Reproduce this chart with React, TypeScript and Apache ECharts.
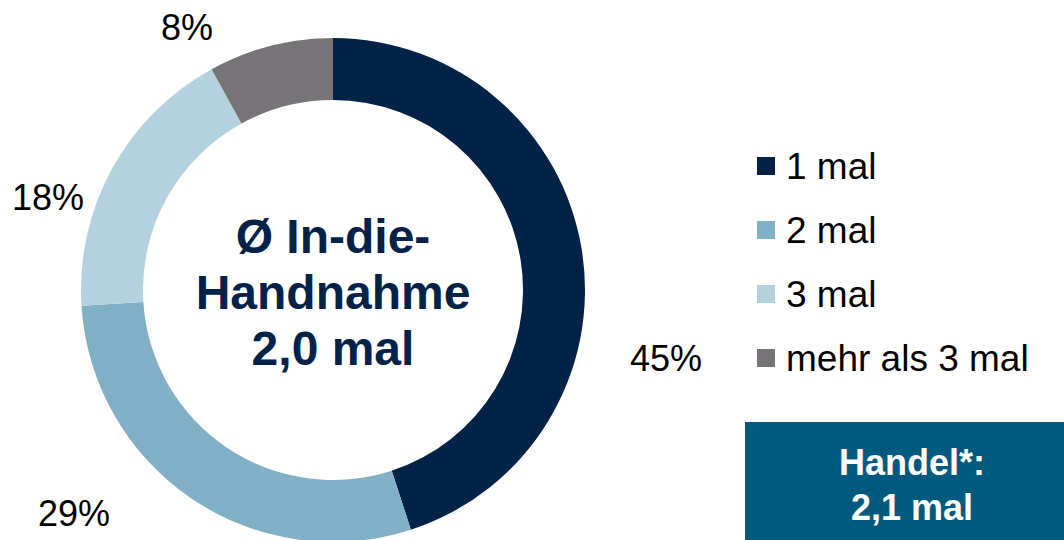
import React, { useEffect, useRef } from "react";
import * as echarts from "echarts";

const categories = ["1 mal", "2 mal", "3 mal", "mehr als 3 mal"];
const shares = [45, 29, 18, 8];
const sliceColors = ["#022247", "#80afc6", "#b3d1df", "#767477"];
const centerLines = ["Ø In-die-", "Handnahme", "2,0 mal"];
const boxLines = ["Handel*:", "2,1 mal"];

// label anchor points (layout only)
const labelAnchors: [number, number][] = [
  [666, 358],
  [74, 513],
  [48, 197],
  [187, 27],
];

const FONT = "'Liberation Sans', Arial, Helvetica, sans-serif";

export default function App() {
  const ref = useRef<HTMLDivElement>(null);
  useEffect(() => {
    if (!ref.current) return;
    const chart = echarts.init(ref.current, undefined, { renderer: "svg" });
    chart.setOption({
      animation: false,
      backgroundColor: "#ffffff",
      color: sliceColors,
      legend: {
        orient: "vertical",
        left: 757,
        top: 144,
        padding: 0,
        itemWidth: 18,
        itemHeight: 18,
        itemGap: 20,
        itemTextGap: 10,
        itemStyle: { borderWidth: 0 },
        icon: "rect",
        textStyle: {
          fontFamily: FONT,
          fontSize: 37,
          lineHeight: 36,
          color: "#000000",
          padding: [8, 0, 0, 6],
        },
        data: categories,
        selectedMode: false,
      },
      series: [
        {
          type: "pie",
          center: [333, 290],
          radius: [190, 252],
          startAngle: 90,
          clockwise: true,
          avoidLabelOverlap: false,
          itemStyle: { borderWidth: 0 },
          label: {
            show: true,
            position: "outside",
            formatter: "{c}%",
            fontFamily: FONT,
            fontSize: 36,
            color: "#000000",
          },
          labelLine: { show: false },
          labelLayout: (p: any) => {
            const a = labelAnchors[p.dataIndex];
            return { x: a[0], y: a[1], align: "center", verticalAlign: "middle" };
          },
          emphasis: { disabled: true },
          data: categories.map((name, i) => ({ name, value: shares[i] })),
        },
      ],
      graphic: [
        {
          type: "text",
          x: 333,
          y: 292,
          style: {
            text: centerLines.join("\n"),
            fontFamily: FONT,
            fontWeight: "bold",
            fontSize: 48,
            lineHeight: 56,
            fill: "#022247",
            align: "center",
            verticalAlign: "middle",
          },
        },
        {
          type: "rect",
          shape: { x: 745, y: 422, width: 340, height: 130 },
          style: { fill: "#005a80" },
        },
        {
          type: "text",
          x: 912,
          y: 485,
          style: {
            text: boxLines.join("\n"),
            fontFamily: FONT,
            fontWeight: "bold",
            fontSize: 36,
            lineHeight: 45,
            fill: "#ffffff",
            align: "center",
            verticalAlign: "middle",
          },
        },
      ],
    });
    return () => chart.dispose();
  }, []);
  return (
    <div
      ref={ref}
      style={{ position: "absolute", left: 0, top: 0, width: 1064, height: 540 }}
    />
  );
}
